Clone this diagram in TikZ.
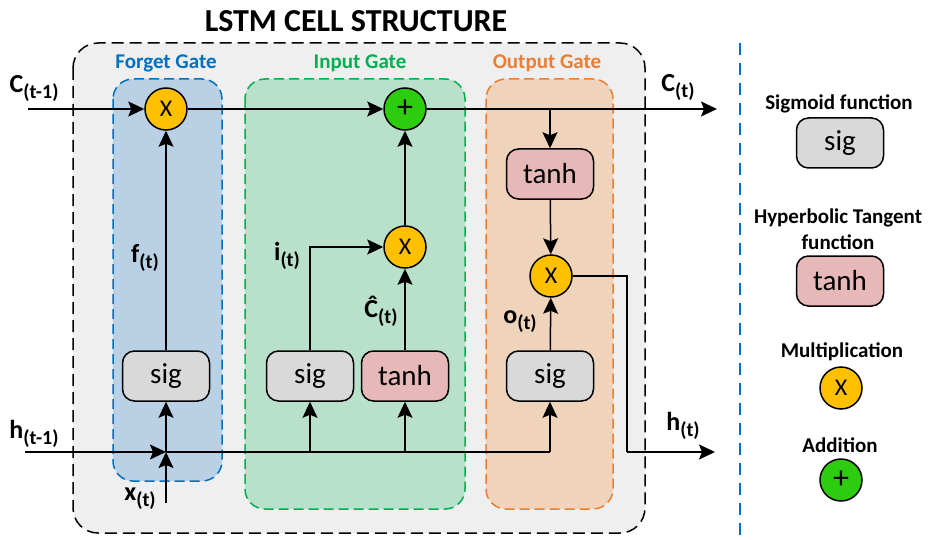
\documentclass[tikz,border=0pt]{standalone}
\usepackage{fontspec}
\setmainfont{Carlito}
\usetikzlibrary{arrows.meta,positioning}
\definecolor{cellgray}{HTML}{EFEFEF}
\definecolor{forgetblue}{HTML}{0070C0}
\definecolor{forgetfill}{HTML}{BAD1E5}
\definecolor{inputgreen}{HTML}{00B050}
\definecolor{inputfill}{HTML}{B8E0CB}
\definecolor{outputorange}{HTML}{ED7D31}
\definecolor{outputfill}{HTML}{EFD3BA}
\definecolor{siggray}{HTML}{D9D9D9}
\definecolor{tanhred}{HTML}{E6B9B8}
\definecolor{mulyellow}{HTML}{FFC000}
\definecolor{addgreen}{HTML}{2ECC0E}
\newcommand{\sublbl}[2]{{\fontsize{26}{26}\selectfont\bfseries #1}\raisebox{-6pt}{\fontsize{20}{20}\selectfont\bfseries #2}}

\begin{document}
\begin{tikzpicture}[
    x=1pt, y=-1pt,
    opbox/.style={rectangle, draw, rounded corners=12pt, line width=1.5pt, minimum width=87pt,
                  minimum height=50pt, inner sep=0pt, font=\fontsize{29}{29}\selectfont},
    sigbox/.style={opbox, fill=siggray},
    tanhbox/.style={opbox, fill=tanhred},
    mulop/.style={circle, draw, line width=1.5pt, fill=mulyellow, minimum size=42pt, inner sep=0pt,
                  font=\fontsize{24}{24}\selectfont},
    addop/.style={mulop, fill=addgreen, font=\fontsize{32}{32}\selectfont},
    cellbox/.style={draw=black, fill=cellgray, line width=1.5pt, dash pattern=on 12pt off 6pt,
                    rounded corners=25pt},
    gatebox/.style={line width=1.5pt, dash pattern=on 10pt off 5pt, rounded corners=20pt},
    gatetitle/.style={font=\fontsize{21}{21}\selectfont\bfseries},
    legendtext/.style={font=\fontsize{21}{26}\selectfont\bfseries, align=center},
    wire/.style={line width=1.5pt},
    arrow/.style={-{Stealth[length=16pt, width=15pt, inset=3pt]}, line width=1.5pt}
  ]
  \useasboundingbox (0,0) rectangle (933,540);

  \node[font=\fontsize{32}{32}\selectfont\bfseries] (title) at (356,21) {LSTM CELL STRUCTURE};
  \draw[cellbox] (73,43) rectangle (645,533);
  \draw[gatebox, draw=forgetblue, fill=forgetfill] (113,79) rectangle (222,481);
  \draw[gatebox, draw=inputgreen, fill=inputfill] (245,79) rectangle (465,509);
  \draw[gatebox, draw=outputorange, fill=outputfill] (486,79) rectangle (613,509);
  \node[gatetitle, text=forgetblue] (tforget) at (166,63) {Forget Gate};
  \node[gatetitle, text=inputgreen] (tinput) at (360,63) {Input Gate};
  \node[gatetitle, text=outputorange] (toutput) at (547,63) {Output Gate};
  \draw[forgetblue, line width=1.5pt, dash pattern=on 12pt off 8pt] (740,43) -- (740,540);

  \node[mulop] (fmul) at (166,109) {X};
  \node[addop] (add) at (405,109) {+};
  \node[mulop] (imul) at (405,247) {X};
  \node[mulop] (omul) at (551,276) {X};
  \node[sigbox] (fsig) at (166,376) {sig};
  \node[sigbox] (isig) at (310,376) {sig};
  \node[tanhbox] (itanh) at (405,376) {tanh};
  \node[tanhbox] (otanh) at (550,174) {tanh};
  \node[sigbox] (osig) at (550,376) {sig};

  \coordinate (cin) at (28,109);
  \coordinate (cout) at (717,109);
  \coordinate (hin) at (25,452);
  \coordinate (hj) at (166,452);
  \coordinate (xin) at (166,503);
  \coordinate (hbend) at (627,452);
  \coordinate (hout) at (715,452);

  \node (lcin) at (34,88) {\sublbl{C}{(t-1)}};
  \node (lhin) at (34,434) {\sublbl{h}{(t-1)}};
  \node (lxin) at (140,499) {\sublbl{x}{(t)}};
  \node (lcout) at (678,87) {\sublbl{C}{(t)}};
  \node (lhout) at (683,426) {\sublbl{h}{(t)}};
  \node (lf) at (145,258) {\sublbl{f}{(t)}};
  \node (li) at (287,256) {\sublbl{i}{(t)}};
  \node (lc) at (381,311) {\sublbl{Ĉ}{(t)}};
  \node (lo) at (520,322) {\sublbl{o}{(t)}};

  \draw[arrow] (cin) -- (fmul);
  \draw[arrow] (fmul) -- (add);
  \draw[arrow] (add) -- (cout);
  \draw[arrow] (hin) -- (hj);
  \draw[arrow] (xin) -- (hj);
  \draw[arrow] (hj) -- (fsig);
  \draw[arrow] (fsig) -- (fmul);
  \draw[wire] (hj) -- (osig.south |- hj);
  \draw[arrow] (isig.south |- hj) -- (isig);
  \draw[arrow] (itanh.south |- hj) -- (itanh);
  \draw[arrow] (isig) |- (imul);
  \draw[arrow] (itanh) -- (imul);
  \draw[arrow] (imul) -- (add);
  \draw[arrow] (otanh.north |- cout) -- (otanh);
  \draw[arrow] (otanh) -- (omul);
  \draw[arrow] (osig.south |- hj) -- (osig);
  \draw[arrow] (osig) -- (omul);
  \draw[wire] (omul) -| (hbend);
  \draw[arrow] (hbend) -- (hout);

  \node[legendtext] (lsigt) at (839,104) {Sigmoid function};
  \node[sigbox] (lsig) at (840,143) {sig};
  \node[legendtext] (ltanht) at (838,229) {Hyperbolic Tangent\\function};
  \node[tanhbox] (ltanh) at (840,281) {tanh};
  \node[legendtext] (lmult) at (842,352) {Multiplication};
  \node[mulop] (lmul) at (841,388) {X};
  \node[legendtext] (laddt) at (840,445) {Addition};
  \node[addop] (ladd) at (841,480) {+};
\end{tikzpicture}
\end{document}
